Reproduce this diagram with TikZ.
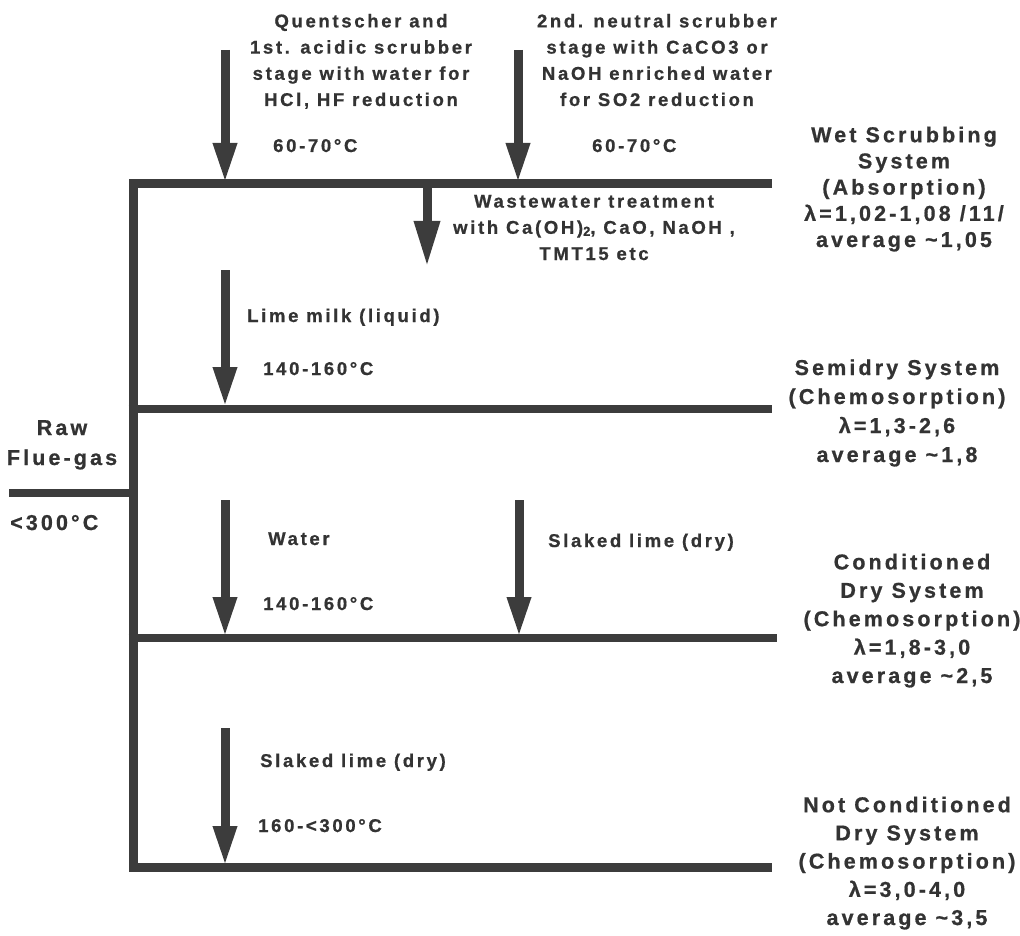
\documentclass[tikz,border=0pt]{standalone}
\usepackage{fontspec}
\usetikzlibrary{arrows.meta}
\newfontfamily\lab{Liberation Sans Bold}[LetterSpace=14.5,FakeBold=0.8]
\definecolor{ink}{HTML}{3C3C3C}
\definecolor{txt}{HTML}{333333}
\tikzset{
  bar/.style={draw=ink, line width=9pt, line cap=butt, line join=miter},
  feed/.style={draw=ink, line width=9pt, -{Triangle[length=40pt,width=22pt]}},
  small/.style={text=txt, inner sep=0pt, font=\lab\fontsize{18.5}{26.2}\selectfont},
  big/.style={text=txt, inner sep=0pt, align=center, font=\lab\fontsize{21.5}{28.4}\selectfont},
}
\begin{document}
\begin{tikzpicture}[x=1pt,y=-1pt]
\useasboundingbox (0,0) rectangle (1020,936);
% main frame coordinates
\coordinate (wetR) at (772,184);
\coordinate (wetL) at (133,184);
\coordinate (ncL) at (133,867);
\coordinate (ncR) at (772,867);
\coordinate (semL) at (128.5,409);
\coordinate (semR) at (772,409);
\coordinate (conL) at (128.5,638);
\coordinate (conR) at (777,638);
\coordinate (rawL) at (9,493);
\coordinate (rawR) at (138,493);
\draw[bar] (wetR) -- (wetL) -- (ncL) -- (ncR);
\draw[bar, line width=8pt] (semL) -- (semR);
\draw[bar, line width=8pt] (conL) -- (conR);
\draw[bar, line width=8pt] (rawL) -- (rawR);
% feed arrows
\coordinate (a1s) at (225,50);   \coordinate (a1e) at (225,183);
\coordinate (a2s) at (518,50);   \coordinate (a2e) at (518,183);
\coordinate (a3s) at (427,184);  \coordinate (a3e) at (427,267);
\coordinate (a4s) at (225,270);  \coordinate (a4e) at (225,407);
\coordinate (a5s) at (225,500);  \coordinate (a5e) at (225,637);
\coordinate (a6s) at (519,500);  \coordinate (a6e) at (519,637);
\coordinate (a7s) at (225,728);  \coordinate (a7e) at (225,866);
\draw[feed] (a1s) -- (a1e);
\draw[feed] (a2s) -- (a2e);
\draw[feed, -{Triangle[length=46pt,width=24pt]}] (a3s) -- (a3e);
\draw[feed] (a4s) -- (a4e);
\draw[feed] (a5s) -- (a5e);
\draw[feed] (a6s) -- (a6e);
\draw[feed] (a7s) -- (a7e);
% labels of the feeds (anchor=base is the baseline of the last line)
\node[small, align=center, anchor=base] (q1) at (361,106) {Quentscher and\\1st. acidic scrubber\\stage with water for\\HCl, HF reduction};
\node[small, align=center, anchor=base] (q2) at (657,106) {2nd. neutral scrubber\\stage with CaCO3 or\\NaOH enriched water\\for SO2 reduction};
\node[small, anchor=base west] (t1) at (273,152) {60-70°C};
\node[small, anchor=base west] (t2) at (592,152) {60-70°C};
\node[small, align=center, anchor=base] (ww) at (594,260) {Wastewater treatment\\with Ca(OH)\raisebox{-0.2ex}{\fontsize{13}{13}\selectfont 2}, CaO, NaOH ,\\TMT15 etc};
\node[small, anchor=base west] (lm) at (247,322) {Lime milk (liquid)};
\node[small, anchor=base west] (t3) at (263,375) {140-160°C};
\node[small, anchor=base west] (wa) at (268,545) {Water};
\node[small, anchor=base west] (t4) at (263,610) {140-160°C};
\node[small, anchor=base west] (sl1) at (548,547) {Slaked lime (dry)};
\node[small, anchor=base west] (sl2) at (260,767) {Slaked lime (dry)};
\node[small, anchor=base west] (t5) at (258,832) {160-<300°C};
% inlet
\node[big, anchor=base, font=\lab\fontsize{21.5}{30}\selectfont] (raw) at (62,465) {Raw\\Flue-gas};
\node[big, anchor=base west] (t0) at (10,530) {<300°C};
% system labels
\node[big, anchor=base, font=\lab\fontsize{21.5}{26.2}\selectfont] (wet) at (904,247) {Wet Scrubbing\\System\\(Absorption)\\λ=1,02-1,08 /11/\\average \textasciitilde1,05};
\node[big, anchor=base, font=\lab\fontsize{21.5}{29}\selectfont] (semi) at (897,462) {Semidry System\\(Chemosorption)\\λ=1,3-2,6\\average \textasciitilde1,8};
\node[big, anchor=base] (cond) at (912,683) {Conditioned\\Dry System\\(Chemosorption)\\λ=1,8-3,0\\average \textasciitilde2,5};
\node[big, anchor=base, font=\lab\fontsize{21.5}{28.2}\selectfont] (ncond) at (907,925) {Not Conditioned\\Dry System\\(Chemosorption)\\λ=3,0-4,0\\average \textasciitilde3,5};
\end{tikzpicture}
\end{document}
